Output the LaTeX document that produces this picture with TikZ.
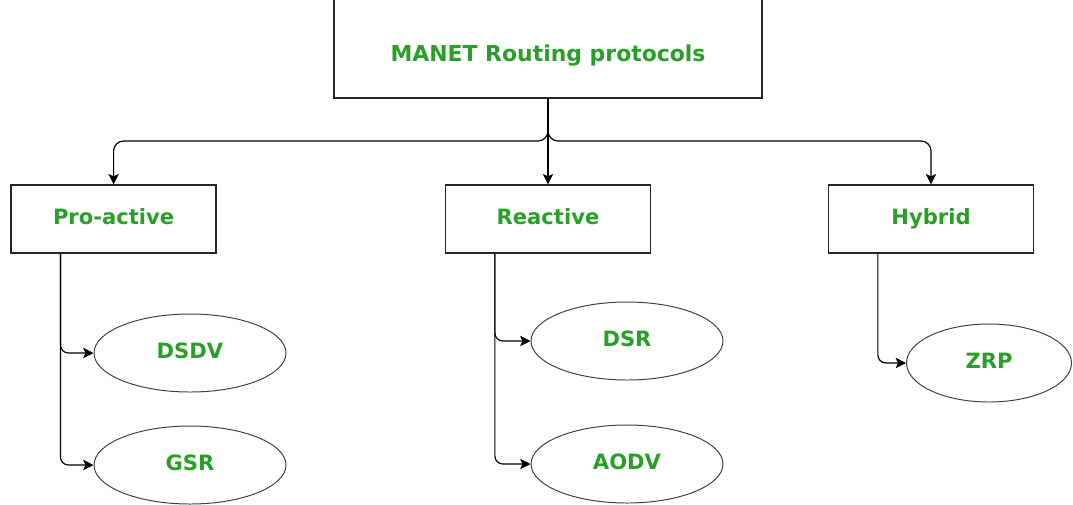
\documentclass[tikz,border=0pt]{standalone}
\usepackage{fontspec}
\setmainfont{DejaVu Sans}
\usepackage{tikz}
\usetikzlibrary{shapes.geometric, arrows.meta, calc}
\definecolor{labelgreen}{RGB}{40,160,40}

\begin{document}
\begin{tikzpicture}[node distance=2.8cm]
% Styles
\tikzstyle{root} = [rectangle, minimum width=10.7cm, minimum height=2.55cm, text height=20pt, text depth=0pt, draw=black!85, line width=0.9pt, text=labelgreen, font=\bfseries\fontsize{15.6}{18}\selectfont]
\tikzstyle{process} = [rectangle, minimum width=5.125cm, minimum height=1.7cm, text height=11pt, text depth=3pt, text centered, draw=black!85, line width=0.9pt, text=labelgreen, font=\bfseries\fontsize{15}{18}\selectfont]
\tikzstyle{protocol} = [ellipse, minimum width=4.8cm, minimum height=1.95cm, inner sep=0pt, text height=11pt, text depth=3pt, draw=black!75, line width=0.7pt, text=labelgreen, font=\bfseries\fontsize{15}{18}\selectfont]
\tikzstyle{arrow} = [line width=0.85pt, -{Stealth[length=0.26cm, width=0.26cm, inset=0.06cm]}]

\useasboundingbox (0,0) rectangle (26.825,-12.6);

% Nodes
\node (manet) [root] at (13.7,-1.175) {MANET Routing protocols};
\node (reactive) [process, below of=manet, yshift=-1.5cm] {Reactive};
\node (proactive) [process, left of=reactive, xshift=-8.06cm] {Pro-active};
\node (hybrid) [process, right of=reactive, xshift=6.775cm] {Hybrid};
\node (dsdv) [protocol, below of=proactive, xshift=1.91cm, yshift=-0.55cm] {DSDV};
\node (gsr) [protocol, below of=dsdv] {GSR};
\node (dsr) [protocol, below of=reactive, xshift=1.975cm, yshift=-0.25cm] {DSR};
\node (aodv) [protocol, below of=dsr, yshift=-0.275cm] {AODV};
\node (zrp) [protocol, below of=hybrid, xshift=1.45cm, yshift=-0.8cm, minimum width=4.125cm] {ZRP};

% Arrows
\coordinate (bus) at (0,-3.525);
\draw [arrow, rounded corners=0.25cm] (manet.south) -- (manet.south |- bus) -| (proactive.north);
\draw [arrow] (manet.south) -- (manet.south |- reactive.north);
\draw [arrow, rounded corners=0.25cm] (manet.south) -- (manet.south |- bus) -| (hybrid.north);

\draw [arrow, rounded corners=0.2cm] ([xshift=1.25cm]proactive.south west) |- (dsdv);
\draw [arrow, rounded corners=0.2cm] ([xshift=1.25cm]proactive.south west) |- (gsr);
\draw [arrow, rounded corners=0.2cm] ([xshift=1.25cm]reactive.south west) |- (dsr);
\draw [arrow, rounded corners=0.2cm] ([xshift=1.25cm]reactive.south west) |- (aodv);
\draw [arrow, rounded corners=0.2cm] ([xshift=1.25cm]hybrid.south west) |- (zrp);
\end{tikzpicture}
\end{document}
